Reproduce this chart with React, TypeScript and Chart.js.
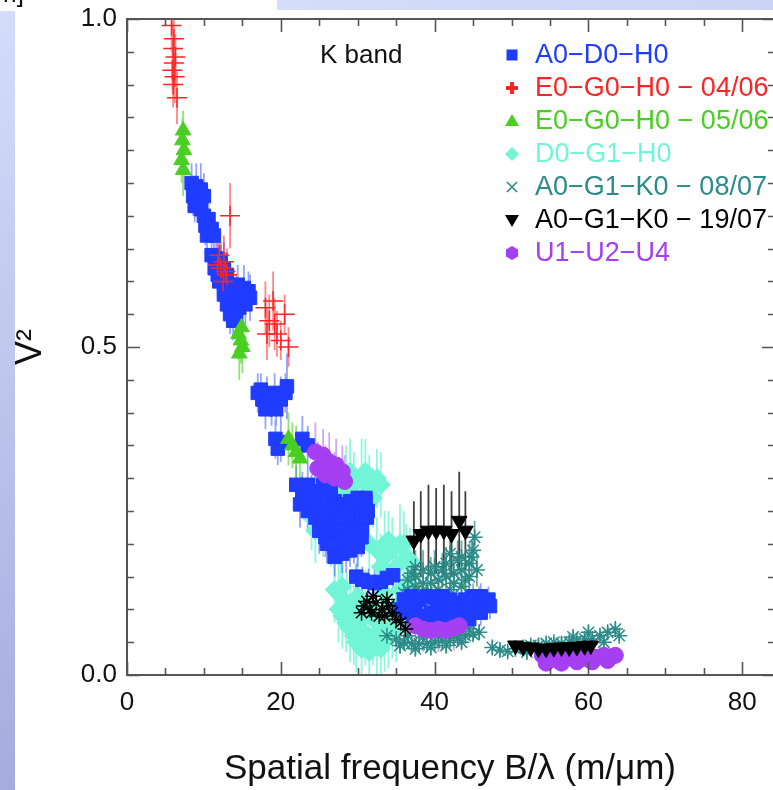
import React, { useEffect, useRef } from 'react';
import { Chart, registerables } from 'chart.js';

Chart.register(...registerables);

const FONT = '"Liberation Sans", Arial, Helvetica, sans-serif';

// ---------- data ----------
const xTickStep = 20;
const yTickStep = 0.5;
const xMinorStep = 5;
const yMinorStep = 0.05;
const xAxisMax = 84;

const legendLabels = [
  'A0−D0−H0',
  'E0−G0−H0 − 04/06',
  'E0−G0−H0 − 05/06',
  'D0−G1−H0',
  'A0−G1−K0 − 08/07',
  'A0−G1−K0 − 19/07',
  'U1−U2−U4',
];

// A0-D0-H0 (blue squares)
const blueX = [
  8.4, 9.0, 9.6, 8.6, 9.3, 10.0, 8.8, 9.6, 10.0, 10.6, 10.2, 11.0, 10.4, 11.3,
  11.0, 11.6, 12.2, 11.4, 12.6, 11.8, 13.0, 12.0, 12.8, 13.6, 14.4, 15.2, 15.8, 12.6, 13.4, 14.2, 15.0, 16.0, 13.0, 13.8, 14.6, 15.4, 13.4, 14.2, 13.8,
  17.0, 17.6, 18.2, 18.8, 19.4, 20.0, 20.6, 20.8, 18.0, 19.2, 17.4,
  19.3, 20.0, 22.8, 23.5, 19.6,
  22.0, 22.8, 23.5, 24.5, 25.5, 26.5, 22.5, 23.5, 24.5, 25.0, 25.8, 26.5, 27.5, 28.5, 29.5, 30.5, 27.0, 28.0, 29.0, 30.0, 31.0, 31.3, 30.5, 28.5, 26.0, 24.0,
  23.0, 24.0, 25.0, 26.0, 27.0, 28.0, 29.0, 30.0, 31.0, 25.0, 26.5, 27.5, 28.5, 29.5, 30.5, 31.2, 25.5, 26.5, 27.5, 28.5, 29.5, 30.5, 26.0, 27.0, 28.0, 29.0, 30.0, 27.0,
  29.8, 30.6, 31.4, 32.2, 33.0, 33.8, 34.6,
  35.5, 36.3, 37.2, 38.0, 38.8, 39.5, 40.3, 41.0, 41.8, 42.6, 43.4, 44.2, 45.0, 45.8, 46.6, 47.2, 39.0, 40.0, 41.5, 43.0, 44.5, 37.5, 38.5,
  36.0, 37.0, 38.0, 41.0, 42.0, 43.0, 44.0, 45.0, 46.0, 47.0, 39.5, 40.5, 42.0, 44.0, 46.0, 36.5,
];
const blueY = [
  0.75, 0.745, 0.74, 0.73, 0.72, 0.73, 0.715, 0.71, 0.70, 0.695, 0.685, 0.68, 0.67, 0.67,
  0.64, 0.635, 0.63, 0.62, 0.62, 0.61, 0.61, 0.60, 0.595, 0.59, 0.595, 0.59, 0.585, 0.58, 0.575, 0.58, 0.575, 0.575, 0.565, 0.56, 0.56, 0.565, 0.55, 0.545, 0.54,
  0.43, 0.42, 0.425, 0.41, 0.405, 0.42, 0.43, 0.44, 0.405, 0.43, 0.435,
  0.36, 0.355, 0.36, 0.35, 0.345,
  0.29, 0.28, 0.29, 0.28, 0.29, 0.28, 0.26, 0.25, 0.24, 0.22, 0.21, 0.20, 0.20, 0.19, 0.20, 0.21, 0.23, 0.24, 0.25, 0.26, 0.27, 0.25, 0.23, 0.22, 0.25, 0.26,
  0.27, 0.275, 0.27, 0.27, 0.265, 0.26, 0.265, 0.27, 0.265, 0.25, 0.24, 0.25, 0.25, 0.235, 0.245, 0.24, 0.23, 0.225, 0.22, 0.21, 0.215, 0.22, 0.20, 0.195, 0.185, 0.19, 0.195, 0.18,
  0.15, 0.145, 0.142, 0.14, 0.142, 0.148, 0.152,
  0.10, 0.095, 0.09, 0.085, 0.09, 0.095, 0.10, 0.11, 0.105, 0.10, 0.095, 0.10, 0.105, 0.11, 0.11, 0.105, 0.12, 0.118, 0.08, 0.082, 0.085, 0.11, 0.075,
  0.115, 0.12, 0.115, 0.12, 0.115, 0.11, 0.115, 0.12, 0.12, 0.115, 0.08, 0.082, 0.09, 0.09, 0.095, 0.105,
];
const blueErr = [
  0.03, 0.035, 0.04, 0.03, 0.03, 0.035, 0.025, 0.03, 0.03, 0.035, 0.03, 0.025, 0.03, 0.03,
  0.035, 0.03, 0.03, 0.025, 0.04, 0.03, 0.035, 0.03, 0.03, 0.025, 0.03, 0.035, 0.03, 0.03, 0.025, 0.03, 0.03, 0.035, 0.03, 0.03, 0.025, 0.03, 0.03, 0.025, 0.03,
  0.03, 0.025, 0.03, 0.03, 0.025, 0.035, 0.03, 0.05, 0.03, 0.03, 0.025,
  0.03, 0.03, 0.035, 0.03, 0.025,
  0.03, 0.03, 0.035, 0.03, 0.03, 0.03, 0.035, 0.03, 0.03, 0.035, 0.03, 0.03, 0.03, 0.035, 0.03, 0.03, 0.03, 0.035, 0.03, 0.03, 0.03, 0.03, 0.03, 0.03, 0.03, 0.03,
  0.03, 0.03, 0.025, 0.03, 0.03, 0.03, 0.025, 0.03, 0.03, 0.03, 0.03, 0.025, 0.03, 0.03, 0.03, 0.025, 0.03, 0.03, 0.03, 0.03, 0.025, 0.03, 0.03, 0.03, 0.03, 0.025, 0.03, 0.03,
  0.02, 0.02, 0.02, 0.025, 0.02, 0.02, 0.02,
  0.025, 0.02, 0.02, 0.02, 0.025, 0.02, 0.02, 0.02, 0.025, 0.02, 0.02, 0.02, 0.02, 0.025, 0.02, 0.02, 0.02, 0.02, 0.02, 0.025, 0.02, 0.02, 0.02,
  0.02, 0.02, 0.02, 0.025, 0.02, 0.02, 0.02, 0.02, 0.02, 0.02, 0.02, 0.02, 0.02, 0.02, 0.02, 0.02,
];

// E0-G0-H0 04/06 (red crosses)
const redX = [5.8, 6.0, 6.3, 6.1, 5.9, 6.2, 6.0, 6.5, 6.1, 13.4, 12.0, 12.6, 12.2, 13.0, 12.5, 11.8, 12.8, 18.0, 19.0, 20.5, 18.5, 19.5, 18.2, 20.0, 21.0, 19.2];
const redY = [0.99, 0.955, 0.942, 0.933, 0.922, 0.912, 0.90, 0.88, 0.97, 0.70, 0.64, 0.63, 0.62, 0.61, 0.60, 0.625, 0.615, 0.56, 0.57, 0.55, 0.54, 0.52, 0.52, 0.51, 0.50, 0.535];
const redErr = [0.04, 0.04, 0.035, 0.04, 0.03, 0.04, 0.035, 0.04, 0.04, 0.05, 0.035, 0.04, 0.035, 0.04, 0.035, 0.04, 0.03, 0.04, 0.045, 0.03, 0.04, 0.035, 0.04, 0.03, 0.03, 0.04];

// E0-G0-H0 05/06 (green triangles)
const greenX = [7.3, 7.2, 7.4, 7.1, 7.3, 14.5, 14.8, 15.0, 14.6, 14.9, 21.0, 21.5, 22.0, 22.5];
const greenY = [0.83, 0.815, 0.80, 0.785, 0.77, 0.52, 0.51, 0.50, 0.49, 0.53, 0.36, 0.35, 0.34, 0.33];
const greenErr = [0.03, 0.035, 0.04, 0.035, 0.04, 0.04, 0.035, 0.04, 0.04, 0.035, 0.04, 0.035, 0.04, 0.035];

// D0-G1-H0 (aquamarine diamonds)
const aquaX = [
  29.5, 30.5, 31.5, 32.0, 28.5, 27.0, 25.5, 26.5, 27.5, 30.0, 31.5, 32.5, 33.5, 34.5, 35.5, 36.3, 33.0, 35.0,
  27.0, 27.8, 28.6, 29.5, 30.0, 30.5, 31.0, 31.5, 32.5, 33.5, 34.0, 35.0, 29.0, 29.8, 32.5, 34.0, 35.5, 36.5, 33.5, 31.0, 24.0,
  28.0, 28.5, 29.0, 30.0, 31.0, 32.0, 32.0, 33.0, 34.5, 35.0, 36.0, 30.5, 31.5, 29.5, 33.0, 27.5, 28.0, 35.5, 36.5,
  28.0, 29.0, 31.0, 32.5, 33.0, 24.5, 26.0, 34.0, 36.0, 36.8, 33.5,
];
const aquaY = [
  0.29, 0.30, 0.285, 0.27, 0.30, 0.25, 0.23, 0.21, 0.19, 0.22, 0.20, 0.19, 0.18, 0.19, 0.20, 0.18, 0.165, 0.165,
  0.13, 0.12, 0.11, 0.10, 0.085, 0.07, 0.06, 0.05, 0.045, 0.05, 0.06, 0.07, 0.07, 0.05, 0.08, 0.09, 0.11, 0.125, 0.125, 0.11, 0.24,
  0.09, 0.08, 0.09, 0.12, 0.09, 0.06, 0.10, 0.07, 0.075, 0.10, 0.09, 0.04, 0.035, 0.06, 0.04, 0.10, 0.135, 0.13, 0.14,
  0.28, 0.31, 0.31, 0.30, 0.29, 0.22, 0.24, 0.205, 0.20, 0.175, 0.20,
];
const aquaErr = [
  0.05, 0.06, 0.05, 0.045, 0.05, 0.05, 0.05, 0.045, 0.05, 0.05, 0.055, 0.05, 0.045, 0.05, 0.06, 0.05, 0.05, 0.045,
  0.05, 0.05, 0.045, 0.05, 0.05, 0.05, 0.045, 0.05, 0.05, 0.045, 0.05, 0.05, 0.05, 0.045, 0.05, 0.05, 0.05, 0.045, 0.05, 0.05, 0.05,
  0.05, 0.045, 0.05, 0.05, 0.05, 0.045, 0.05, 0.05, 0.05, 0.045, 0.05, 0.05, 0.05, 0.045, 0.05, 0.05, 0.05, 0.05, 0.045,
  0.05, 0.05, 0.05, 0.045, 0.05, 0.05, 0.05, 0.045, 0.05, 0.05, 0.05,
];

// A0-G1-K0 08/07 (teal stars)
const tealX = [
  36.5, 37.5, 38.5, 39.5, 40.5, 41.5, 42.5, 43.5, 44.5, 45.0, 45.2, 37.0, 38.5, 40.0, 41.5, 43.0, 44.0, 42.0, 39.0,
  36.5, 37.5, 38.0, 39.5, 40.5, 41.0, 42.5, 43.5, 44.5, 45.5, 44.8, 36.0, 37.5, 42.0, 43.5,
  33.8, 35.0, 36.0, 37.0, 38.0, 39.0, 40.0, 41.0, 42.0, 43.0, 44.0, 45.0, 45.8,
  35.5, 37.5, 39.5, 41.5, 43.5, 44.5, 36.5, 38.5, 40.5, 42.5,
  47.5, 48.5, 49.5, 50.5, 51.5, 52.5, 53.5, 54.5, 55.5, 56.5, 57.5, 58.5, 59.5, 60.5, 61.5, 62.5, 63.5, 64.0,
  52.0, 56.0, 60.0, 62.0, 58.0,
];
const tealY = [
  0.13, 0.135, 0.14, 0.14, 0.145, 0.15, 0.155, 0.16, 0.17, 0.19, 0.21, 0.155, 0.16, 0.165, 0.17, 0.175, 0.145, 0.13, 0.125,
  0.145, 0.15, 0.125, 0.155, 0.13, 0.16, 0.14, 0.135, 0.15, 0.16, 0.18, 0.125, 0.165, 0.185, 0.18,
  0.06, 0.055, 0.05, 0.048, 0.047, 0.048, 0.05, 0.052, 0.053, 0.056, 0.06, 0.062, 0.065,
  0.045, 0.04, 0.042, 0.045, 0.05, 0.07, 0.06, 0.058, 0.06, 0.062,
  0.042, 0.038, 0.036, 0.04, 0.042, 0.045, 0.045, 0.048, 0.05, 0.048, 0.05, 0.052, 0.055, 0.055, 0.06, 0.065, 0.07, 0.06,
  0.035, 0.04, 0.065, 0.05, 0.058,
];
const tealErr = [
  0.025, 0.025, 0.03, 0.025, 0.025, 0.03, 0.025, 0.025, 0.03, 0.025, 0.025, 0.025, 0.03, 0.025, 0.025, 0.03, 0.025, 0.025, 0.025,
  0.025, 0.03, 0.025, 0.025, 0.03, 0.025, 0.025, 0.025, 0.03, 0.025, 0.025, 0.025, 0.025, 0.03, 0.025,
  0.012, 0.012, 0.01, 0.012, 0.012, 0.01, 0.012, 0.012, 0.01, 0.012, 0.012, 0.01, 0.012,
  0.012, 0.01, 0.012, 0.012, 0.01, 0.012, 0.012, 0.01, 0.012, 0.012,
  0.01, 0.01, 0.008, 0.01, 0.01, 0.008, 0.01, 0.01, 0.008, 0.01, 0.01, 0.008, 0.01, 0.01, 0.008, 0.01, 0.01, 0.008,
  0.01, 0.01, 0.01, 0.01, 0.01,
];

// A0-G1-K0 19/07 (black down triangles and black stars)
const blackTriX = [37.3, 38.2, 39.2, 40.2, 41.2, 42.2, 43.2, 44.0, 50.5, 51.5, 52.5, 53.5, 54.5, 55.5, 56.5, 57.5, 58.5, 59.5, 60.3];
const blackTriY = [0.205, 0.215, 0.22, 0.22, 0.22, 0.215, 0.235, 0.22, 0.045, 0.043, 0.042, 0.04, 0.04, 0.041, 0.042, 0.042, 0.043, 0.044, 0.045];
const blackTriErr = [0.06, 0.065, 0.07, 0.065, 0.07, 0.065, 0.075, 0.06, 0.008, 0.008, 0.008, 0.008, 0.008, 0.008, 0.008, 0.008, 0.008, 0.008, 0.008];
const blackStarX = [30.8, 31.6, 32.4, 33.2, 34.0, 31.8, 33.5, 35.6, 36.2, 30.5, 31.2, 32.0, 32.8, 33.8, 34.5, 35.0];
const blackStarY = [0.105, 0.10, 0.11, 0.10, 0.105, 0.095, 0.09, 0.08, 0.07, 0.095, 0.112, 0.12, 0.09, 0.115, 0.095, 0.085];
const blackStarErr = [0.015, 0.015, 0.015, 0.015, 0.015, 0.015, 0.015, 0.012, 0.012, 0.015, 0.015, 0.015, 0.015, 0.015, 0.015, 0.012];

// U1-U2-U4 (purple circles)
const purpleX = [24.5, 25.5, 26.3, 27.2, 28.0, 24.8, 25.8, 27.0, 28.3, 37.5, 38.5, 39.5, 40.5, 41.5, 42.5, 43.2, 54.0, 55.0, 56.0, 57.0, 58.0, 59.0, 60.0, 61.0, 62.0, 63.0, 63.5, 54.5, 56.5, 58.5, 60.5, 62.5];
const purpleY = [0.34, 0.335, 0.325, 0.32, 0.31, 0.315, 0.305, 0.30, 0.295, 0.075, 0.07, 0.068, 0.07, 0.068, 0.072, 0.075, 0.03, 0.025, 0.022, 0.025, 0.028, 0.026, 0.024, 0.027, 0.03, 0.028, 0.03, 0.018, 0.018, 0.02, 0.02, 0.022];
const purpleErr = [0.045, 0.04, 0.045, 0.04, 0.04, 0.04, 0.045, 0.04, 0.04, 0.03, 0.035, 0.03, 0.035, 0.03, 0.035, 0.03, 0.01, 0.01, 0.01, 0.01, 0.01, 0.01, 0.01, 0.01, 0.01, 0.01, 0.01, 0.01, 0.01, 0.01, 0.01, 0.01];

// ---------- styles ----------
const C_BLUE = '#1f3cff';
const C_RED = '#ff2424';
const C_GREEN = '#48cf22';
const C_AQUA = '#72f5d6';
const C_TEAL = '#2b8b88';
const C_BLACK = '#000000';
const C_PURPLE = '#a53ff2';
const legendColors = [C_BLUE, C_RED, C_GREEN, C_AQUA, C_TEAL, C_BLACK, C_PURPLE];

function pts(xs: number[], ys: number[]) {
  return xs.map((x, i) => ({ x, y: ys[i] }));
}

function drawLegendMarker(ctx: CanvasRenderingContext2D, idx: number, x: number, y: number) {
  ctx.save();
  ctx.fillStyle = legendColors[idx];
  ctx.strokeStyle = legendColors[idx];
  ctx.beginPath();
  switch (idx) {
    case 0:
      ctx.fillRect(x - 5.5, y - 5.5, 11, 11);
      break;
    case 1:
      ctx.fillRect(x - 6, y - 2, 12, 4);
      ctx.fillRect(x - 2, y - 6, 4, 12);
      break;
    case 2:
      ctx.moveTo(x, y - 7); ctx.lineTo(x + 7, y + 5); ctx.lineTo(x - 7, y + 5); ctx.closePath(); ctx.fill();
      break;
    case 3:
      ctx.moveTo(x, y - 7); ctx.lineTo(x + 7, y); ctx.lineTo(x, y + 7); ctx.lineTo(x - 7, y); ctx.closePath(); ctx.fill();
      break;
    case 4:
      ctx.lineWidth = 1.6;
      ctx.moveTo(x - 5, y - 5); ctx.lineTo(x + 5, y + 5); ctx.moveTo(x + 5, y - 5); ctx.lineTo(x - 5, y + 5); ctx.stroke();
      break;
    case 5:
      ctx.moveTo(x - 7, y - 5); ctx.lineTo(x + 7, y - 5); ctx.lineTo(x, y + 7); ctx.closePath(); ctx.fill();
      break;
    case 6:
      for (let k = 0; k < 6; k++) {
        const a = Math.PI / 6 + (k * Math.PI) / 3;
        const px = x + 7 * Math.cos(a), py = y + 7 * Math.sin(a);
        if (k === 0) ctx.moveTo(px, py); else ctx.lineTo(px, py);
      }
      ctx.closePath(); ctx.fill();
      break;
  }
  ctx.restore();
}

const decorPlugin = {
  id: 'decor',
  beforeDraw(chart: any) {
    const ctx: CanvasRenderingContext2D = chart.ctx;
    ctx.save();
    const g = ctx.createLinearGradient(0, 11, 0, 790);
    g.addColorStop(0, '#d3ddfa');
    g.addColorStop(1, '#a6acde');
    ctx.fillStyle = g;
    ctx.fillRect(0, 11, 15, 779);
    const g2 = ctx.createLinearGradient(277, 0, 773, 0);
    g2.addColorStop(0, '#d4defa');
    g2.addColorStop(1, '#cbd4f5');
    ctx.fillStyle = g2;
    ctx.fillRect(277, 0, 496, 10);
    ctx.fillStyle = '#111';
    ctx.font = `26px ${FONT}`;
    ctx.textBaseline = 'alphabetic';
    ctx.textAlign = 'left';
    ctx.fillText('m]', -5, 2);
    ctx.restore();
  },
  beforeDatasetsDraw(chart: any) {
    const ctx: CanvasRenderingContext2D = chart.ctx;
    const yScale = chart.scales.y;
    const area = chart.chartArea;
    ctx.save();
    ctx.beginPath();
    ctx.rect(area.left, area.top, area.right - area.left, area.bottom - area.top);
    ctx.clip();
    ctx.lineWidth = 1.8;
    chart.data.datasets.forEach((ds: any, i: number) => {
      const meta = chart.getDatasetMeta(i);
      ctx.strokeStyle = ds.errColor;
      ctx.beginPath();
      ds.data.forEach((p: any, j: number) => {
        const e = ds.errors[j];
        const el = meta.data[j];
        ctx.moveTo(el.x, yScale.getPixelForValue(p.y + e));
        ctx.lineTo(el.x, yScale.getPixelForValue(p.y - e));
      });
      ctx.stroke();
    });
    ctx.restore();
  },
  afterDraw(chart: any) {
    const ctx: CanvasRenderingContext2D = chart.ctx;
    const xs = chart.scales.x;
    const ys = chart.scales.y;
    const a = chart.chartArea;
    ctx.save();
    ctx.strokeStyle = '#555';
    ctx.lineWidth = 2;
    ctx.beginPath();
    ctx.moveTo(a.left, a.top); ctx.lineTo(a.right + 2, a.top);
    ctx.moveTo(a.left, a.bottom); ctx.lineTo(a.right + 2, a.bottom);
    ctx.moveTo(a.left, a.top - 1); ctx.lineTo(a.left, a.bottom + 1);
    ctx.moveTo(a.right + 2, a.top); ctx.lineTo(a.right + 2, a.bottom);
    ctx.stroke();
    ctx.lineWidth = 1.6;
    ctx.beginPath();
    for (let v = 0; v <= xs.max + 1e-9; v += xMinorStep) {
      const px = Math.round(xs.getPixelForValue(v)) + 0.5;
      const major = Math.abs(v / xTickStep - Math.round(v / xTickStep)) < 1e-6;
      const len = major ? 13 : 7;
      ctx.moveTo(px, a.bottom); ctx.lineTo(px, a.bottom - len);
      ctx.moveTo(px, a.top); ctx.lineTo(px, a.top + len);
    }
    for (let k = 0; k <= Math.round(1 / yMinorStep); k++) {
      const v = k * yMinorStep;
      const py = Math.round(ys.getPixelForValue(v)) + 0.5;
      const major = k % Math.round(yTickStep / yMinorStep) === 0;
      const len = major ? 13 : 7;
      ctx.moveTo(a.left, py); ctx.lineTo(a.left + len, py);
      ctx.moveTo(a.right + 2, py); ctx.lineTo(a.right + 2 - len, py);
    }
    ctx.stroke();

    ctx.font = `26px ${FONT}`;
    ctx.textBaseline = 'middle';
    ctx.textAlign = 'left';
    ctx.fillStyle = '#111';
    ctx.fillText('K band', 320, 56);

    ctx.font = `27px ${FONT}`;
    legendLabels.forEach((lab, i) => {
      const y = 55 + i * 33;
      drawLegendMarker(ctx, i, 512, y);
      ctx.fillStyle = legendColors[i];
      ctx.fillText(lab, 535, y + 1);
    });
    ctx.restore();
  },
};

export default function App() {
  const ref = useRef<HTMLCanvasElement>(null);
  useEffect(() => {
    document.body.style.margin = '0';
    const canvas = ref.current;
    if (!canvas) return;
    const mk = (label: string, xs: number[], ys: number[], errs: number[], color: string, errColor: string, style: any, radius: number, order: number, extra: any = {}) => ({
      label,
      data: pts(xs, ys),
      errors: errs,
      errColor,
      pointStyle: style,
      pointRadius: radius,
      pointHoverRadius: radius,
      backgroundColor: color,
      borderColor: color,
      borderWidth: 1,
      showLine: false,
      order,
      ...extra,
    });
    const chart = new Chart(canvas, {
      type: 'scatter',
      data: {
        datasets: [
          mk(legendLabels[3], aquaX, aquaY, aquaErr, C_AQUA, 'rgba(114,245,214,0.8)', 'rectRot', 9.5, 8),
          mk(legendLabels[4], tealX, tealY, tealErr, C_TEAL, 'rgba(43,139,136,0.7)', 'star', 8, 7, { borderWidth: 1.5 }),
          mk(legendLabels[0], blueX, blueY, blueErr, C_BLUE, 'rgba(60,90,255,0.55)', 'rect', 9.5, 6),
          mk(legendLabels[2], greenX, greenY, greenErr, C_GREEN, 'rgba(72,207,34,0.6)', 'triangle', 9, 5),
          mk(legendLabels[1], redX, redY, redErr, C_RED, 'rgba(255,36,36,0.55)', 'cross', 10, 4, { borderWidth: 1.5 }),
          mk(legendLabels[6], purpleX, purpleY, purpleErr, C_PURPLE, 'rgba(190,130,248,0.7)', 'circle', 8, 3),
          mk(legendLabels[5], blackStarX, blackStarY, blackStarErr, C_BLACK, 'rgba(0,0,0,0.7)', 'star', 8, 2, { borderWidth: 1.5 }),
          mk(legendLabels[5], blackTriX, blackTriY, blackTriErr, C_BLACK, 'rgba(0,0,0,0.75)', 'triangle', 9, 1, { rotation: 180 }),
        ] as any,
      },
      options: {
        animation: false,
        responsive: false,
        devicePixelRatio: 1,
        layout: { autoPadding: false, padding: { top: 19, right: 0, left: 0, bottom: 0 } },
        plugins: { legend: { display: false }, tooltip: { enabled: false } },
        scales: {
          x: {
            type: 'linear',
            min: 0,
            max: xAxisMax,
            grid: { display: false, drawTicks: false },
            border: { display: false },
            ticks: { stepSize: xTickStep, includeBounds: false, padding: 12, color: '#111', font: { family: FONT, size: 26 } },
            title: { display: true, text: 'Spatial frequency B/λ (m/μm)', color: '#111', font: { family: FONT, size: 35 }, padding: { top: 0, bottom: 0 } },
            afterFit: (s: any) => { s.height = 115; s.paddingLeft = 0; s.paddingRight = 0; },
          },
          y: {
            type: 'linear',
            min: 0,
            max: 1,
            grid: { display: false, drawTicks: false },
            border: { display: false },
            ticks: { stepSize: yTickStep, padding: 10, color: '#111', font: { family: FONT, size: 26 }, callback: (v: any) => Number(v).toFixed(1) },
            title: { display: true, text: 'V²', color: '#111', font: { family: FONT, size: 36 }, padding: { top: 9, bottom: 0 } },
            afterFit: (s: any) => { s.width = 127; s.paddingTop = 0; s.paddingBottom = 0; },
          },
        },
      } as any,
      plugins: [decorPlugin as any],
    });
    return () => chart.destroy();
  }, []);
  return (
    <div style={{ width: 773, height: 790, position: 'relative' }}>
      <canvas ref={ref} width={773} height={790} style={{ display: 'block' }} />
    </div>
  );
}
